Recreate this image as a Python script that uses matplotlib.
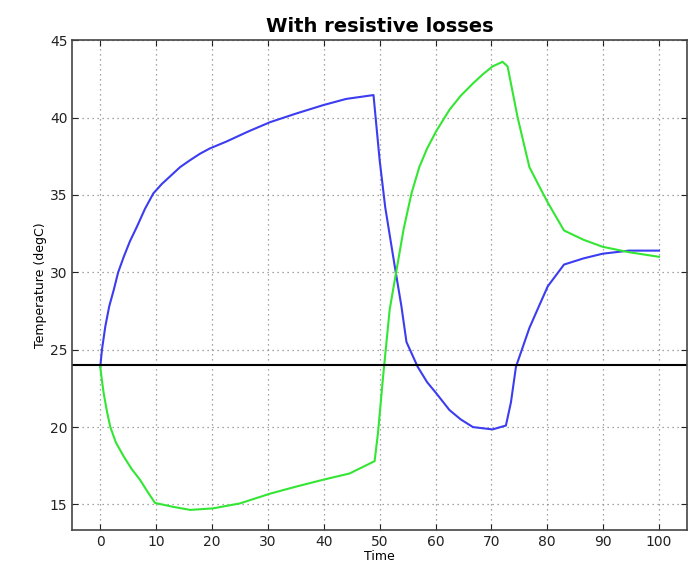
import matplotlib
matplotlib.use("Agg")
import matplotlib.pyplot as plt

# Datos
tiempo_azul = [0, 0.3, 0.9, 1.6, 2.4, 3.2, 4.2, 5.3, 6.5, 8.0, 9.5, 11.0, 12.5, 14.3, 16.1,
               17.8, 19.6, 22.6, 26.5, 30.4, 35.0, 39.9, 44.0, 48.9,
               50.0, 51.0, 52.7, 53.9, 54.8, 56.8, 58.5, 60.1, 62.5, 64.5, 66.7, 70.2, 72.6,
               73.5, 74.4, 76.8, 78.5, 80.1, 83.0, 86.5, 89.9, 94.6, 100]
temp_azul = [23.9, 25.0, 26.5, 27.8, 28.85, 30.0, 31.0, 32.0, 32.9, 34.1, 35.1, 35.7, 36.2,
             36.8, 37.25, 37.65, 38.0, 38.45, 39.1, 39.7, 40.25, 40.8, 41.2, 41.45,
             37.25, 34.2, 30.4, 27.8, 25.5, 23.9, 22.9, 22.2, 21.1, 20.5, 20.0, 19.85, 20.1,
             21.6, 23.9, 26.4, 27.8, 29.1, 30.5, 30.9, 31.2, 31.4, 31.4]

tiempo_verde = [0, 0.3, 0.6, 1.2, 1.8, 2.8, 4.2, 5.6, 7.1, 8.5, 9.8, 13.0, 16.1, 20.2, 25.0,
                30.4, 35.0, 39.9, 44.6, 49.1,
                49.7, 50.6, 51.8, 53.0, 54.3, 55.7, 57.1, 58.5, 60.1, 62.5, 64.5, 66.7, 68.5,
                70.2, 72.0, 72.9, 74.7, 76.8, 78.5, 80.1, 83.0, 86.5, 89.9, 94.6, 100]
temp_verde = [23.9, 23.0, 22.2, 21.0, 20.0, 19.0, 18.1, 17.3, 16.6, 15.8, 15.1, 14.85, 14.65,
              14.75, 15.07, 15.7, 16.15, 16.6, 17.0, 17.8,
              19.6, 23.2, 27.6, 30.1, 32.8, 35.1, 36.8, 38.0, 39.1, 40.5, 41.4, 42.2, 42.8,
              43.3, 43.6, 43.3, 40.0, 36.8, 35.6, 34.5, 32.7, 32.1, 31.65, 31.3, 31.0]

temp_inicial = 24

xticks = list(range(0, 101, 10))
yticks = list(range(15, 46, 5))

fig = plt.figure(figsize=(6.89, 5.73), dpi=100)
ax = fig.add_axes([0.105, 0.075, 0.892, 0.855])

ax.plot(tiempo_azul, temp_azul, color="#3c3cf0", linewidth=1.5)
ax.plot(tiempo_verde, temp_verde, color="#33e633", linewidth=1.5)
ax.axhline(temp_inicial, color="black", linewidth=1.5)

ax.set_xlim(-5, 105)
ax.set_ylim(13.35, 45)
ax.set_xticks(xticks)
ax.set_yticks(yticks)
ax.tick_params(direction="in", top=True, right=True, labelsize=10, colors="#222222",
               length=4)
ax.grid(True, linestyle=(0, (1, 3)), color="#888888", linewidth=0.9)

for lado in ax.spines.values():
    lado.set_color("#444444")
    lado.set_linewidth(1.2)

ax.set_title("With resistive losses", fontsize=14, fontweight="bold", pad=6)
ax.set_xlabel("Time", fontsize=9, labelpad=1)
ax.set_ylabel("Temperature (degC)", fontsize=9, labelpad=2)

plt.savefig("out.png", dpi=100)
